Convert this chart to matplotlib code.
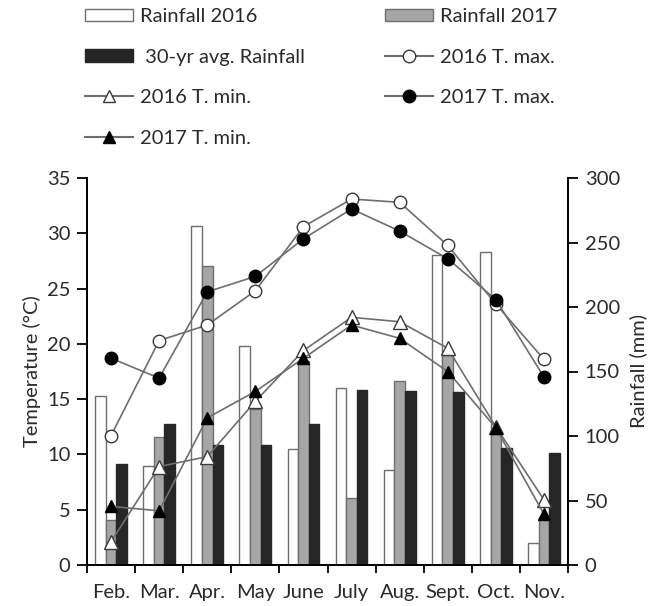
import numpy as np
import matplotlib.pyplot as plt
from matplotlib.patches import Patch
from matplotlib.lines import Line2D

plt.rcParams['font.family'] = ['Lato', 'DejaVu Sans']

# Monthly data
months = ['Feb.', 'Mar.', 'Apr.', 'May', 'June', 'July', 'Aug.', 'Sept.', 'Oct.', 'Nov.']
rain_2016 = [131, 77, 263, 170, 90, 137, 74, 240, 243, 17]
rain_2017 = [35, 99, 232, 121, 158, 52, 143, 163, 105, 37]
rain_30yr = [78, 109, 93, 93, 109, 136, 135, 134, 91, 87]
tmax_2016 = [11.7, 20.3, 21.7, 24.8, 30.6, 33.1, 32.8, 28.9, 23.6, 18.6]
tmax_2017 = [18.7, 16.9, 24.7, 26.1, 29.5, 32.2, 30.2, 27.7, 24.0, 17.0]
tmin_2016 = [2.1, 8.9, 9.8, 14.8, 19.4, 22.4, 22.0, 19.6, 12.5, 5.9]
tmin_2017 = [5.3, 4.9, 13.3, 15.7, 18.7, 21.7, 20.5, 17.5, 12.4, 4.6]

x = np.arange(len(months)) + 0.5
w = 0.22

W, H = 659, 606
fig = plt.figure(figsize=(W / 100, H / 100), dpi=100)
ax = fig.add_axes([87 / W, 41 / H, 481 / W, 387 / H])
ax2 = ax.twinx()

# bars on the rainfall axis
edge = '#6e6e6e'
ax2.bar(x - w, rain_2016, w, color='white', edgecolor=edge, linewidth=1.0)
ax2.bar(x, rain_2017, w, color='#a6a6a6', edgecolor=edge, linewidth=1.0)
ax2.bar(x + w, rain_30yr, w, color='#262626', edgecolor='#262626', linewidth=1.0)

# temperature lines drawn above the bars
ax.set_zorder(ax2.get_zorder() + 1)
ax.patch.set_visible(False)
lc = '#6e6e6e'
mec = '#3a3a3a'
ax.plot(x, tmax_2016, '-o', color=lc, lw=1.2, ms=9, mfc='white', mec=mec, mew=1.0)
ax.plot(x, tmax_2017, '-o', color=lc, lw=1.2, ms=9, mfc='black', mec='black', mew=1.0)
ax.plot(x, tmin_2016, '-^', color=lc, lw=1.2, ms=9.5, mfc='white', mec=mec, mew=1.0)
ax.plot(x, tmin_2017, '-^', color=lc, lw=1.2, ms=8.5, mfc='black', mec='black', mew=1.0)

fs = 14.5
tc = '#2a2a2a'
ax.set_xlim(0, len(months))
ax.set_ylim(0, 35)
ax2.set_ylim(0, 300)
ax.set_yticks(np.arange(0, 36, 5))
ax2.set_yticks(np.arange(0, 301, 50))
ax.set_xticks(np.arange(0, len(months) + 1))
ax.set_xticklabels([])
ax.set_xticks(x, minor=True)
ax.set_xticklabels(months, minor=True, fontsize=fs, color=tc)
ax.tick_params(axis='x', which='minor', length=0, pad=14)
ax.tick_params(axis='x', which='major', direction='out', length=6, width=1.3)
ax.tick_params(axis='y', direction='out', length=7, width=1.3, labelsize=fs, labelcolor=tc, pad=5)
ax2.tick_params(axis='y', direction='out', length=7, width=1.3, labelsize=fs, labelcolor=tc, pad=5)

for a in (ax, ax2):
    a.spines['top'].set_visible(False)
    for s in ('left', 'right', 'bottom'):
        a.spines[s].set_linewidth(1.3)

ax.set_ylabel('Temperature (°C)', fontsize=fs, color=tc, labelpad=4)
ax2.set_ylabel('Rainfall (mm)', fontsize=fs, color=tc, labelpad=7)

# legend: two columns placed separately so they line up with the reference
col1 = [
    Patch(facecolor='white', edgecolor=edge, label='Rainfall 2016'),
    Patch(facecolor='#262626', edgecolor='#262626', label=' 30-yr avg. Rainfall'),
    Line2D([], [], color=lc, marker='^', ms=9, mfc='white', mec=mec, label='2016 T. min.'),
    Line2D([], [], color=lc, marker='^', ms=8, mfc='black', mec='black', label='2017 T. min.'),
]
col2 = [
    Patch(facecolor='#a6a6a6', edgecolor=edge, label='Rainfall 2017'),
    Line2D([], [], color=lc, marker='o', ms=9, mfc='white', mec=mec, label='2016 T. max.'),
    Line2D([], [], color=lc, marker='o', ms=9, mfc='black', mec='black', label='2017 T. max.'),
]
opts = dict(loc='upper left', frameon=False, fontsize=fs, handlelength=2.4,
            handleheight=0.6, handletextpad=0.35, labelspacing=1.17,
            borderpad=0, borderaxespad=0)
leg1 = fig.legend(handles=col1, bbox_to_anchor=(85 / W, 1 - 8 / H), **opts)
leg2 = fig.legend(handles=col2, bbox_to_anchor=(385 / W, 1 - 8 / H), **opts)
for leg in (leg1, leg2):
    for t in leg.get_texts():
        t.set_color(tc)

fig.savefig('out.png', dpi=100)
